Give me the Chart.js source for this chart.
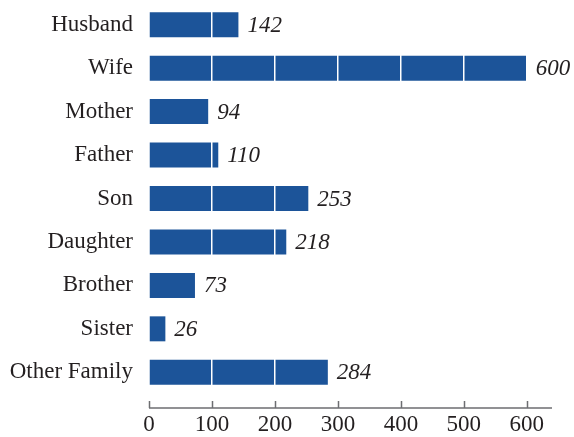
<!DOCTYPE html>
<html>
<head>
<meta charset="utf-8">
<script src="https://cdn.jsdelivr.net/npm/chart.js@4"></script>
<style>
  html, body { margin: 0; padding: 0; background: #fff; }
  #wrap { width: 574px; height: 437px; }
</style>
</head>
<body>
<div id="wrap"><canvas id="barChart" width="574" height="437"></canvas></div>
<script>
const categories = ['Husband', 'Wife', 'Mother', 'Father', 'Son', 'Daughter', 'Brother', 'Sister', 'Other Family'];
const counts = [142, 600, 94, 110, 253, 218, 73, 26, 284];
const xTicks = [0, 100, 200, 300, 400, 500, 600];

const barBlue = '#1c5499';
const textColor = '#231f20';
const serif = '"Liberation Serif", "Times New Roman", serif';

// value labels at the end of each bar (drawn after the white grid)
const valueLabels = {
    id: 'valueLabels',
    afterDraw(chart) {
        const ctx = chart.ctx;
        const meta = chart.getDatasetMeta(0);
        ctx.save();
        ctx.font = 'italic 23px ' + serif;
        ctx.fillStyle = textColor;
        ctx.textAlign = 'left';
        ctx.textBaseline = 'middle';
        meta.data.forEach(function(bar, i) {
            ctx.fillText(counts[i], bar.x + 9, bar.y + 1);
        });
        ctx.restore();
    }
};

// bottom axis line with ticks pointing up
const bottomAxis = {
    id: 'bottomAxis',
    afterDraw(chart) {
        const ctx = chart.ctx;
        const area = chart.chartArea;
        const x = chart.scales.x;
        const y0 = area.bottom + 14;
        ctx.save();
        ctx.strokeStyle = '#6d6e71';
        ctx.lineWidth = 1.5;
        ctx.beginPath();
        ctx.moveTo(area.left, y0);
        ctx.lineTo(area.right, y0);
        xTicks.forEach(function(v) {
            const px = Math.round(x.getPixelForValue(v)) + 0.5;
            ctx.moveTo(px, y0);
            ctx.lineTo(px, y0 - 7);
        });
        ctx.stroke();
        ctx.restore();
    }
};

const ctx = document.getElementById('barChart').getContext('2d');
const chart = new Chart(ctx, {
    type: 'bar',
    data: {
        labels: categories,
        datasets: [{
            data: counts,
            backgroundColor: barBlue,
            borderWidth: 0,
            barPercentage: 0.575,
            categoryPercentage: 1
        }]
    },
    options: {
        indexAxis: 'y',
        responsive: false,
        animation: false,
        layout: { padding: { top: 3, right: 22, left: 0, bottom: 0 } },
        plugins: {
            legend: { display: false },
            tooltip: { enabled: false }
        },
        scales: {
            x: {
                min: 0,
                max: 640,
                afterBuildTicks: function(scale) {
                    scale.ticks = xTicks.map(function(v) { return { value: v }; });
                },
                afterFit: function(scale) {
                    scale.height = 43;
                    scale.paddingLeft = 0;
                    scale.paddingRight = 0;
                },
                border: { display: false },
                grid: {
                    z: 1,
                    drawTicks: false,
                    lineWidth: 1.5,
                    color: function(c) { return c.tick && c.tick.value === 0 ? 'rgba(0,0,0,0)' : '#ffffff'; }
                },
                ticks: {
                    padding: 17,
                    color: textColor,
                    font: { family: serif, size: 23 }
                }
            },
            y: {
                afterFit: function(scale) {
                    scale.width = 149;
                    scale.paddingTop = 0;
                    scale.paddingBottom = 0;
                },
                border: { display: false },
                grid: { display: false, drawTicks: false },
                ticks: {
                    padding: 16,
                    color: textColor,
                    font: { family: serif, size: 23 }
                }
            }
        }
    },
    plugins: [valueLabels, bottomAxis]
});
</script>
</body>
</html>
